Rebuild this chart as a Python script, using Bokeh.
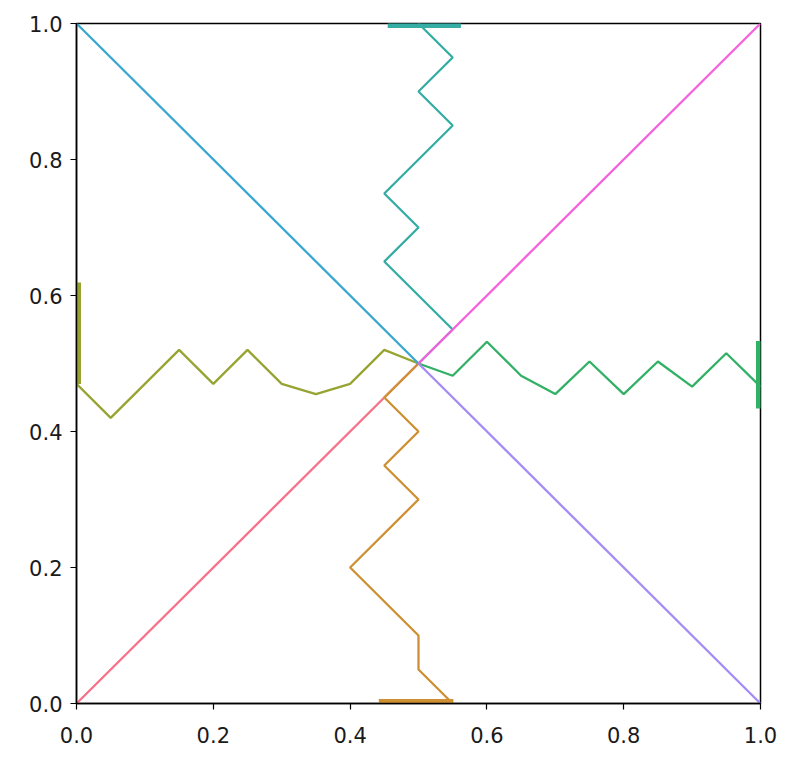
from bokeh.plotting import figure
from bokeh.models import Range1d, FixedTicker, PrintfTickFormatter
from bokeh.embed import file_html
from bokeh.resources import INLINE

# Paths (x, y) starting at centre
pink_x = [0.5, 0.0]
pink_y = [0.5, 0.0]

orange_x = [0.5, 0.45, 0.5, 0.45, 0.5, 0.4, 0.5, 0.5, 0.55]
orange_y = [0.5, 0.45, 0.4, 0.35, 0.3, 0.2, 0.1, 0.05, 0.0]
orange_edge_x = [0.442, 0.551]
orange_edge_y = [0.0, 0.0]

olive_x = [0.5, 0.45, 0.4, 0.35, 0.3, 0.25, 0.2, 0.15, 0.05, 0.0]
olive_y = [0.5, 0.52, 0.47, 0.455, 0.47, 0.52, 0.47, 0.52, 0.42, 0.47]
olive_edge_x = [0.0, 0.0]
olive_edge_y = [0.47, 0.619]

green_x = [0.5, 0.55, 0.6, 0.65, 0.7, 0.75, 0.8, 0.85, 0.9, 0.95, 1.0]
green_y = [0.5, 0.482, 0.532, 0.482, 0.455, 0.503, 0.455, 0.503, 0.466, 0.515, 0.466]
green_edge_x = [1.0, 1.0]
green_edge_y = [0.434, 0.533]

teal_x = [0.5, 0.55, 0.45, 0.5, 0.45, 0.55, 0.5, 0.55, 0.5]
teal_y = [0.5, 0.55, 0.65, 0.7, 0.75, 0.85, 0.9, 0.95, 1.0]
teal_edge_x = [0.455, 0.562]
teal_edge_y = [1.0, 1.0]

blue_x = [0.5, 0.0]
blue_y = [0.5, 1.0]

purple_x = [0.5, 1.0]
purple_y = [0.5, 0.0]

magenta_x = [0.5, 1.0]
magenta_y = [0.5, 1.0]

ticks = [0.0, 0.2, 0.4, 0.6, 0.8, 1.0]

colors = ['#f77189', '#ce9032', '#97a431', '#32b166', '#36ada4', '#39a7d0', '#a48cf4', '#f561dd']

p = figure(width=785, height=752, output_backend="svg", toolbar_location=None,
           x_range=Range1d(0, 1), y_range=Range1d(0, 1),
           min_border_left=76, min_border_right=25, min_border_top=23, min_border_bottom=49)

lw = 2.3
p.line(pink_x, pink_y, color=colors[0], line_width=lw)
p.line(orange_x, orange_y, color=colors[1], line_width=lw)
p.line(orange_edge_x, orange_edge_y, color=colors[1], line_width=9)
p.line(olive_x, olive_y, color=colors[2], line_width=lw)
p.line(olive_edge_x, olive_edge_y, color=colors[2], line_width=9)
p.line(green_x, green_y, color=colors[3], line_width=lw)
p.line(green_edge_x, green_edge_y, color=colors[3], line_width=9)
p.line(teal_x, teal_y, color=colors[4], line_width=lw)
p.line(teal_edge_x, teal_edge_y, color=colors[4], line_width=9)
p.line(blue_x, blue_y, color=colors[5], line_width=lw)
p.line(purple_x, purple_y, color=colors[6], line_width=lw)
p.line(magenta_x, magenta_y, color=colors[7], line_width=lw)

p.grid.visible = False
p.outline_line_color = "black"
p.outline_line_width = 1.5
for ax in (p.xaxis[0], p.yaxis[0]):
    ax.ticker = FixedTicker(ticks=ticks)
    ax.formatter = PrintfTickFormatter(format="%.1f")
    ax.axis_line_color = "black"
    ax.axis_line_width = 1.5
    ax.major_tick_line_color = "black"
    ax.major_tick_line_width = 1.2
    ax.major_tick_out = 6
    ax.major_tick_in = 0
    ax.minor_tick_line_color = None
    ax.major_label_text_font = "DejaVu Sans"
    ax.major_label_text_font_size = "21px"
    ax.major_label_text_color = "#1a1a1a"
p.yaxis[0].major_label_standoff = 8
p.xaxis[0].major_label_standoff = 17

open("out.html", "w").write(file_html(p, INLINE))
